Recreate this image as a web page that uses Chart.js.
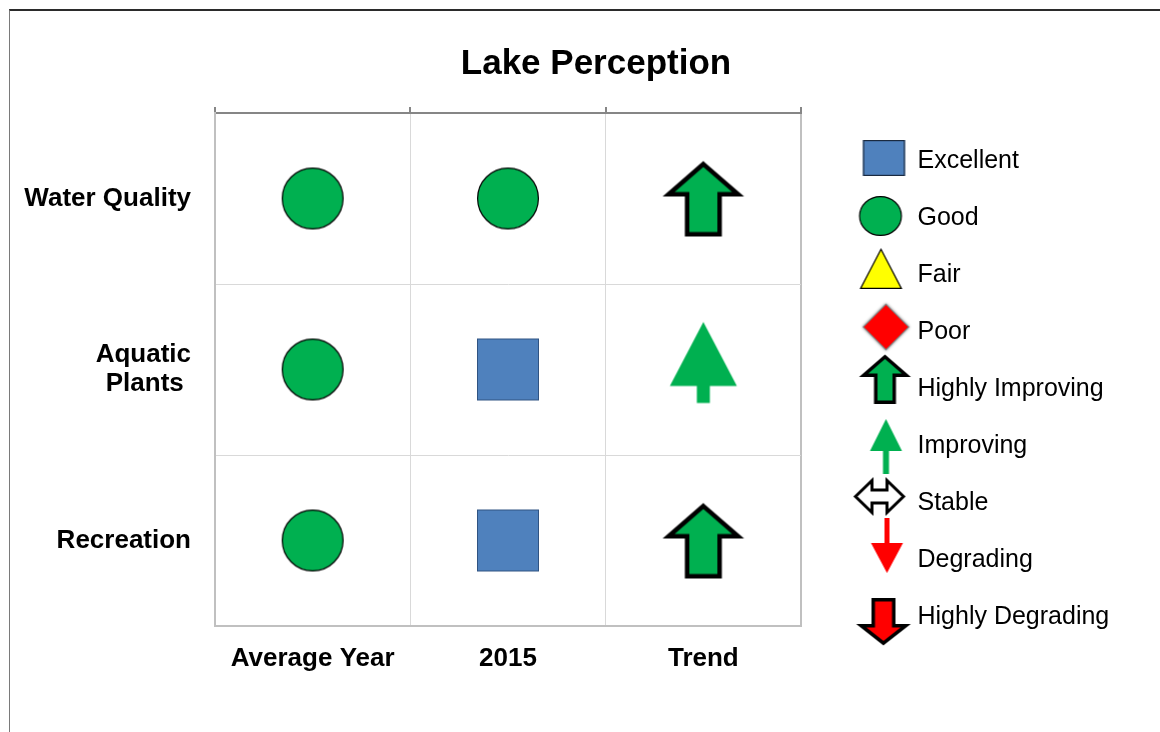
<!DOCTYPE html>
<html><head><meta charset="utf-8">
<script src="https://cdn.jsdelivr.net/npm/chart.js@4.4.0/dist/chart.umd.min.js"></script>
<style>
html,body{margin:0;padding:0;background:#fff;overflow:hidden;width:1160px;height:732px;}
#frame{position:absolute;left:9px;top:9px;width:1300px;height:900px;border-top:2px solid #2b2b2b;border-left:1px solid #7a7a7a;box-sizing:border-box;}
#c{position:absolute;left:10px;top:10px;}
</style></head><body>
<div id="frame"></div>
<canvas id="c" width="1172" height="758"></canvas>
<script>
// ---- data ----
const columns = ['Average Year', '2015', 'Trend'];
const rows = ['Water Quality', 'Aquatic Plants', 'Recreation'];
const rowTickLines = { 'Aquatic Plants': ['Aquatic', 'Plants '] };
const averageYear = ['Good', 'Good', 'Good'];
const year2015 = ['Good', 'Excellent', 'Excellent'];
const trend = ['Highly Improving', 'Improving', 'Highly Improving'];
const ratings = ['Excellent', 'Good', 'Fair', 'Poor', 'Highly Improving', 'Improving', 'Stable', 'Degrading', 'Highly Degrading'];
const columnValues = [averageYear, year2015, trend];

// ---- styles ----
const FONT = "'Liberation Sans', Arial, Helvetica, sans-serif";
const EDGE_LIGHT = '#c0c0c0', INNER = '#d9d9d9', EDGE_DARK = '#868686';
const GREEN = '#00b050', BLUE = '#4f81bd', RED = '#ff0000', YELLOW = '#ffff00';

function makeIcon(w, h, dx, dy, draw) {
  const m = 6;
  const W = 2 * Math.ceil((w + 2 * Math.abs(dx) + 2 * m) / 2);
  const H = 2 * Math.ceil((h + 2 * Math.abs(dy) + 2 * m) / 2);
  const cv = document.createElement('canvas');
  cv.width = W; cv.height = H;
  const c = cv.getContext('2d');
  c.translate(W / 2 + dx, H / 2 + dy);
  draw(c, w, h);
  return cv;
}
function poly(c, pts) {
  c.beginPath();
  pts.forEach((p, i) => i ? c.lineTo(p[0], p[1]) : c.moveTo(p[0], p[1]));
  c.closePath();
}
const ellipseShape = (fill, stroke, lw) => (c, w, h) => {
  c.beginPath(); c.ellipse(0, 0, w / 2 - lw / 2, h / 2 - lw / 2, 0, 0, 2 * Math.PI);
  c.fillStyle = fill; c.fill(); c.lineWidth = lw; c.strokeStyle = stroke; c.stroke();
};
const rectShape = (fill, stroke, lw) => (c, w, h) => {
  c.fillStyle = fill; c.fillRect(-w / 2, -h / 2, w, h);
  c.lineWidth = lw; c.strokeStyle = stroke; c.strokeRect(-w / 2 + lw / 2, -h / 2 + lw / 2, w - lw, h - lw);
};
const triangleShape = (fill, stroke, lw) => (c, w, h) => {
  const i = lw / 2;
  poly(c, [[0, -h / 2 + 2 * i], [w / 2 - i, h / 2 - i], [-w / 2 + i, h / 2 - i]]);
  c.fillStyle = fill; c.fill(); c.lineJoin = 'miter'; c.lineWidth = lw; c.strokeStyle = stroke; c.stroke();
};
const diamondShape = (fill, stroke, lw) => (c, w, h) => {
  const i = lw;
  poly(c, [[0, -h / 2 + i], [w / 2 - i, 0], [0, h / 2 - i], [-w / 2 + i, 0]]);
  c.shadowColor = 'rgba(0,0,0,0.6)'; c.shadowBlur = 3;
  c.lineWidth = lw; c.strokeStyle = stroke; c.stroke();
  c.shadowBlur = 0; c.fillStyle = fill; c.fill();
};
const blockArrow = (dir, fill, lw, headH, sw) => (c, w, h) => {
  const i = lw / 2, s = dir;
  const pts = [[0, -h / 2 + i * 1.6], [w / 2 - i, -h / 2 + headH - i], [sw / 2 - i, -h / 2 + headH - i],
    [sw / 2 - i, h / 2 - i], [-sw / 2 + i, h / 2 - i], [-sw / 2 + i, -h / 2 + headH - i], [-w / 2 + i, -h / 2 + headH - i]]
    .map(p => [p[0], p[1] * s]);
  poly(c, pts);
  c.fillStyle = fill; c.fill(); c.lineJoin = 'miter'; c.lineWidth = lw; c.strokeStyle = '#000'; c.stroke();
};
const treeArrow = (dir, fill, triH, stemW) => (c, w, h) => {
  const s = dir;
  const pts = [[0, -h / 2], [w / 2, -h / 2 + triH], [stemW / 2, -h / 2 + triH], [stemW / 2, h / 2],
    [-stemW / 2, h / 2], [-stemW / 2, -h / 2 + triH], [-w / 2, -h / 2 + triH]].map(p => [p[0], p[1] * s]);
  poly(c, pts); c.fillStyle = fill; c.fill();
};
const doubleArrow = (lw, headLen, sh) => (c, w, h) => {
  const i = lw / 2;
  poly(c, [[-w / 2 + i, 0], [-w / 2 + headLen, -h / 2 + i], [-w / 2 + headLen, -sh / 2 + i], [w / 2 - headLen, -sh / 2 + i],
    [w / 2 - headLen, -h / 2 + i], [w / 2 - i, 0], [w / 2 - headLen, h / 2 - i], [w / 2 - headLen, sh / 2 - i],
    [-w / 2 + headLen, sh / 2 - i], [-w / 2 + headLen, h / 2 - i]]);
  c.fillStyle = '#fff'; c.fill(); c.lineJoin = 'miter'; c.lineWidth = lw; c.strokeStyle = '#000'; c.stroke();
};

// icons drawn on the chart
const chartIcons = {
  'Excellent': makeIcon(62, 62, 0, 0, rectShape(BLUE, '#2f5382', 1)),
  'Good': makeIcon(62, 62, 0, 0, ellipseShape(GREEN, '#000', 1.2)),
  'Fair': makeIcon(62, 60, 0, 0, triangleShape(YELLOW, '#000', 1.2)),
  'Poor': makeIcon(66, 66, 0, 0, diamondShape(RED, '#7f7f7f', 2)),
  'Highly Improving': makeIcon(74, 76, 0, 0, blockArrow(1, GREEN, 4.5, 36, 37)),
  'Improving': makeIcon(67, 81, 0, -7, treeArrow(1, GREEN, 64, 13)),
  'Stable': makeIcon(76, 52, 0, 0, doubleArrow(4, 27, 22)),
  'Degrading': makeIcon(67, 81, 0, 0, treeArrow(-1, RED, 64, 13)),
  'Highly Degrading': makeIcon(74, 76, 0, 0, blockArrow(-1, RED, 4.5, 36, 37))
};
// icons drawn in the legend
const legendIcons = {
  'Excellent': makeIcon(42, 36, 0.5, -3, rectShape(BLUE, '#1a2a40', 1.2)),
  'Good': makeIcon(43, 40, -3, -2, ellipseShape(GREEN, '#000', 1.2)),
  'Fair': makeIcon(42, 41, -2.5, -6.5, triangleShape(YELLOW, '#000', 1.2)),
  'Poor': makeIcon(48, 48, 2.5, -5, diamondShape(RED, '#7f7f7f', 2)),
  'Highly Improving': makeIcon(46, 50, 1.5, -10, blockArrow(1, GREEN, 3.5, 23, 22)),
  'Improving': makeIcon(32, 55, 2.5, 0.5, treeArrow(1, GREEN, 32, 6)),
  'Stable': makeIcon(51, 35, -4, -6.5, doubleArrow(3, 18, 16)),
  'Degrading': makeIcon(32, 55, 3.5, -14.5, treeArrow(-1, RED, 30, 5)),
  'Highly Degrading': makeIcon(48, 48, 0, 5, blockArrow(-1, RED, 3.5, 22, 24))
};

const datasets = ratings.map(r => {
  const data = [];
  columnValues.forEach((vals, ci) => vals.forEach((v, ri) => { if (v === r) data.push({ x: columns[ci], y: rows[ri] }); }));
  return { label: r, data, pointStyle: chartIcons[r], pointRadius: 30, pointHoverRadius: 30, showLine: false };
});

const edgeOr = (edgeVal, innerVal) => c => (c.type !== 'tick' || c.index === 0) ? edgeVal : innerVal;

new Chart(document.getElementById('c'), {
  type: 'scatter',
  data: { datasets },
  options: {
    responsive: false,
    animation: false,
    events: [],
    layout: { padding: 0 },
    plugins: {
      title: {
        display: true, text: 'Lake Perception', color: '#000',
        font: { family: FONT, size: 35, weight: 'bold' },
        padding: { top: 33.5, bottom: 21.5 }
      },
      legend: {
        position: 'right', align: 'center', maxWidth: 400,
        labels: {
          usePointStyle: true, pointStyleWidth: 43, padding: 32, color: '#000',
          font: { family: FONT, size: 25 },
          generateLabels: () => ratings.map((r, i) => ({
            text: r, pointStyle: legendIcons[r], datasetIndex: i, hidden: false,
            fillStyle: 'rgba(0,0,0,0)', strokeStyle: 'rgba(0,0,0,0)', lineWidth: 0, fontColor: '#000'
          }))
        }
      },
      tooltip: { enabled: false }
    },
    scales: {
      x: {
        type: 'category', position: 'bottom', labels: columns, offset: true,
        grid: { offset: true, drawTicks: false, color: edgeOr(EDGE_LIGHT, INNER), lineWidth: edgeOr(2, 1) },
        border: { color: EDGE_LIGHT, width: 2 },
        ticks: { color: '#000', font: { family: FONT, size: 26, weight: 'bold' }, padding: 17.4, maxRotation: 0, autoSkip: false },
        afterFit: s => { s.height = 142; }
      },
      xTop: {
        type: 'category', position: 'top', labels: columns, offset: true,
        grid: { offset: true, drawOnChartArea: false, drawTicks: true, tickLength: 6, color: EDGE_DARK, lineWidth: 2 },
        border: { color: EDGE_DARK, width: 2 },
        ticks: { display: false },
        afterFit: s => { s.height = 6; }
      },
      y: {
        type: 'category', position: 'left', labels: rows, offset: true,
        grid: { offset: true, drawTicks: false, color: edgeOr(EDGE_DARK, INNER), lineWidth: edgeOr(2, 1) },
        border: { color: EDGE_LIGHT, width: 2 },
        ticks: {
          color: '#000', font: { family: FONT, size: 26, weight: 'bold', lineHeight: 1.13 }, padding: 24, autoSkip: false,
          callback: function (v) { const l = this.getLabelForValue(v); return rowTickLines[l] || l; }
        },
        afterFit: s => { s.width = 205; }
      },
      gap: {
        type: 'linear', position: 'right', display: true,
        grid: { display: false }, border: { display: false }, ticks: { display: false },
        afterFit: s => { s.width = 29; }
      },
      spacer: {
        type: 'linear', position: 'right', display: true, weight: 2000,
        grid: { display: false }, border: { display: false }, ticks: { display: false },
        afterFit: s => { s.width = Math.max(0, s.chart.width - 791 - 29 - (s.chart.legend ? s.chart.legend.width : 0)); }
      }
    }
  }
});
</script></body></html>
